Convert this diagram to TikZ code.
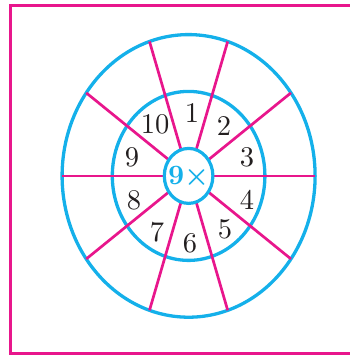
\documentclass[tikz,border=0pt]{standalone}
\usepackage{amsmath}
\usepackage{graphicx}
\usetikzlibrary{calc,shapes.geometric}
\definecolor{mag}{RGB}{232,22,140}
\definecolor{cy}{RGB}{20,176,234}
\definecolor{numcol}{RGB}{35,31,32}
\begin{document}
\begin{tikzpicture}[x=1pt,y=-1pt,
  pinkline/.style={draw=mag, line width=2.7pt},
  frameline/.style={draw=mag, line width=2.3pt},
  blueline/.style={draw=cy, line width=3.3pt},
  num/.style={font=\fontsize{10}{12}\selectfont, text=numcol, inner sep=0pt, scale=2.85}]
\useasboundingbox (0,0) rectangle (350,356);
\draw[frameline] (353,5.5) -- (10.5,5.5) -- (10.5,353.5) -- (353,353.5);
\coordinate (O) at (188.6,175.9);
\draw[blueline] (O) ellipse [x radius=126.5pt, y radius=141.3pt];
\draw[blueline] (O) ellipse [x radius=76.3pt, y radius=84.5pt];
\foreach \a in {0,36,...,324}
  \draw[pinkline] ($(O)+(\a:25 and 28)$) -- ($(O)+(\a:126.5 and 141.3)$);
\node[ellipse, draw=cy, line width=3.2pt, fill=white, minimum width=48.6pt, minimum height=55pt, inner sep=0pt,
  text=cy, font=\fontsize{10}{12}\selectfont\bfseries]
  (c) at (O) {\makebox[0pt]{\raisebox{-0.45\height}[0pt][0pt]{\scalebox{2.8}{9$\boldsymbol{\times}$}}}};
\node[num] (n1) at (192,113) {1};
\node[num] (n2) at (224,126) {2};
\node[num] (n3) at (247,157) {3};
\node[num] (n4) at (247,200) {4};
\node[num] (n5) at (225,229) {5};
\node[num] (n6) at (190,243) {6};
\node[num] (n7) at (157,232) {7};
\node[num] (n8) at (134,200) {8};
\node[num] (n9) at (132,157) {9};
\node[num] (n10) at (155,124) {10};
\end{tikzpicture}
\end{document}
